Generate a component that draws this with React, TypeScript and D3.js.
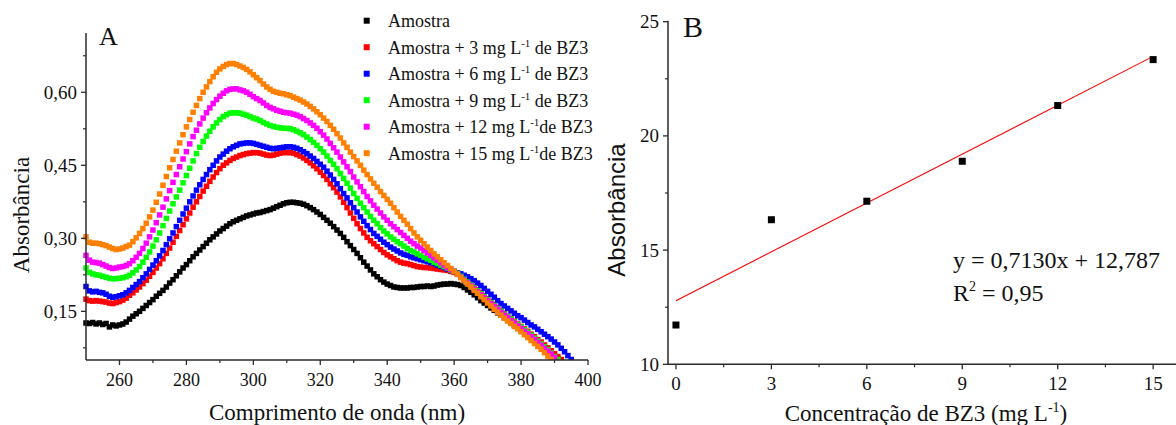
import React from "react";
import * as d3 from "d3";

// ---------- Panel A data (absorbance, 1 nm steps starting at 250 nm) ----------
const WL_START = 250;
const WL_STEP = 1;

const amostra = [
  0.126, 0.125, 0.127, 0.124, 0.126, 0.123, 0.125, 0.118, 0.122, 0.120,
  0.122, 0.124, 0.128, 0.134, 0.140, 0.145, 0.150, 0.156, 0.162, 0.168,
  0.174, 0.181, 0.187, 0.193, 0.200, 0.208, 0.215, 0.223, 0.231, 0.239,
  0.246, 0.254, 0.262, 0.269, 0.276, 0.283, 0.290, 0.297, 0.303, 0.309,
  0.315, 0.320, 0.325, 0.330, 0.334, 0.337, 0.340, 0.343, 0.346, 0.348,
  0.350, 0.352, 0.353, 0.355, 0.357, 0.359, 0.362, 0.365, 0.368, 0.371,
  0.373, 0.374, 0.374, 0.373, 0.372, 0.370, 0.367, 0.363, 0.359, 0.354,
  0.349, 0.343, 0.337, 0.331, 0.324, 0.317, 0.310, 0.302, 0.293, 0.285,
  0.277, 0.269, 0.260, 0.251, 0.243, 0.235, 0.227, 0.221, 0.215, 0.210,
  0.206, 0.203, 0.200, 0.199, 0.198, 0.198, 0.198, 0.199, 0.199, 0.200,
  0.201, 0.201, 0.202, 0.201, 0.202, 0.204, 0.205, 0.206, 0.206, 0.207,
  0.206, 0.205, 0.203, 0.199, 0.194, 0.189, 0.184, 0.178, 0.172, 0.167,
  0.162, 0.157, 0.152, 0.147, 0.142, 0.137, 0.132, 0.127, 0.122, 0.117,
  0.112, 0.107, 0.102, 0.097, 0.092, 0.087, 0.081, 0.076, 0.070, 0.064,
  0.058, 0.052, 0.046,
];

const bz3_3 = [
  0.175, 0.172, 0.171, 0.172, 0.171, 0.170, 0.169, 0.167, 0.166, 0.168,
  0.170, 0.173, 0.177, 0.183, 0.188, 0.194, 0.200, 0.207, 0.214, 0.222,
  0.230, 0.239, 0.248, 0.258, 0.269, 0.280, 0.292, 0.304, 0.316, 0.328,
  0.340, 0.352, 0.364, 0.375, 0.386, 0.397, 0.407, 0.417, 0.426, 0.435,
  0.443, 0.450, 0.455, 0.460, 0.464, 0.467, 0.470, 0.472, 0.474, 0.475,
  0.476, 0.476, 0.475, 0.473, 0.471, 0.470, 0.471, 0.473, 0.475, 0.476,
  0.476, 0.476, 0.475, 0.472, 0.469, 0.465, 0.460, 0.455, 0.449, 0.443,
  0.436, 0.429, 0.421, 0.412, 0.404, 0.395, 0.385, 0.374, 0.363, 0.352,
  0.341, 0.330, 0.320, 0.311, 0.302, 0.295, 0.289, 0.283, 0.277, 0.271,
  0.266, 0.262, 0.258, 0.254, 0.251, 0.249, 0.248, 0.246, 0.244, 0.242,
  0.241, 0.240, 0.240, 0.239, 0.238, 0.237, 0.236, 0.235, 0.234, 0.232,
  0.230, 0.227, 0.223, 0.218, 0.212, 0.206, 0.200, 0.194, 0.188, 0.182,
  0.176, 0.170, 0.164, 0.158, 0.152, 0.146, 0.140, 0.135, 0.130, 0.124,
  0.119, 0.114, 0.109, 0.103, 0.098, 0.092, 0.087, 0.081, 0.075, 0.069,
  0.063, 0.057, 0.051, 0.045,
];

const bz3_6 = [
  0.201, 0.192, 0.190, 0.191, 0.189, 0.188, 0.185, 0.181, 0.179, 0.180,
  0.182, 0.184, 0.188, 0.193, 0.199, 0.205, 0.211, 0.219, 0.227, 0.236,
  0.245, 0.254, 0.264, 0.275, 0.287, 0.299, 0.311, 0.324, 0.337, 0.350,
  0.362, 0.375, 0.387, 0.399, 0.410, 0.421, 0.431, 0.441, 0.450, 0.459,
  0.467, 0.473, 0.479, 0.484, 0.488, 0.491, 0.494, 0.495, 0.496, 0.496,
  0.495, 0.493, 0.491, 0.489, 0.487, 0.485, 0.484, 0.485, 0.486, 0.487,
  0.488, 0.488, 0.487, 0.485, 0.482, 0.478, 0.474, 0.469, 0.464, 0.458,
  0.452, 0.446, 0.438, 0.430, 0.421, 0.412, 0.402, 0.392, 0.383, 0.373,
  0.363, 0.354, 0.344, 0.335, 0.326, 0.318, 0.310, 0.304, 0.298, 0.292,
  0.287, 0.282, 0.278, 0.274, 0.270, 0.267, 0.265, 0.262, 0.260, 0.258,
  0.256, 0.254, 0.252, 0.250, 0.248, 0.245, 0.243, 0.240, 0.237, 0.234,
  0.232, 0.229, 0.227, 0.224, 0.221, 0.217, 0.213, 0.208, 0.203, 0.197,
  0.191, 0.185, 0.179, 0.172, 0.166, 0.161, 0.156, 0.151, 0.146, 0.141,
  0.137, 0.132, 0.127, 0.122, 0.118, 0.113, 0.108, 0.103, 0.098, 0.093,
  0.087, 0.081, 0.074, 0.067, 0.059, 0.051,
];

const bz3_9 = [
  0.239, 0.230, 0.227, 0.225, 0.224, 0.222, 0.220, 0.218, 0.217, 0.217,
  0.218, 0.219, 0.221, 0.224, 0.229, 0.235, 0.242, 0.251, 0.261, 0.272,
  0.284, 0.297, 0.311, 0.326, 0.341, 0.356, 0.371, 0.385, 0.399, 0.414,
  0.429, 0.444, 0.459, 0.474, 0.487, 0.499, 0.510, 0.520, 0.529, 0.537,
  0.544, 0.550, 0.554, 0.557, 0.558, 0.558, 0.557, 0.555, 0.553, 0.550,
  0.547, 0.545, 0.542, 0.538, 0.535, 0.532, 0.530, 0.528, 0.527, 0.526,
  0.526, 0.525, 0.523, 0.520, 0.517, 0.513, 0.508, 0.503, 0.497, 0.491,
  0.484, 0.477, 0.469, 0.460, 0.452, 0.443, 0.433, 0.423, 0.413, 0.403,
  0.392, 0.382, 0.372, 0.363, 0.354, 0.345, 0.337, 0.330, 0.322, 0.315,
  0.309, 0.303, 0.298, 0.293, 0.289, 0.284, 0.279, 0.275, 0.272, 0.268,
  0.265, 0.261, 0.258, 0.255, 0.251, 0.248, 0.245, 0.242, 0.239, 0.235,
  0.232, 0.228, 0.222, 0.216, 0.210, 0.204, 0.198, 0.192, 0.186, 0.180,
  0.174, 0.168, 0.162, 0.156, 0.150, 0.144, 0.139, 0.134, 0.128, 0.123,
  0.118, 0.112, 0.107, 0.101, 0.095, 0.089, 0.083, 0.077, 0.071, 0.064,
  0.057, 0.051, 0.045,
];

const bz3_12 = [
  0.265, 0.255, 0.251, 0.250, 0.249, 0.246, 0.243, 0.240, 0.238, 0.239,
  0.241, 0.242, 0.244, 0.248, 0.254, 0.261, 0.269, 0.279, 0.290, 0.303,
  0.317, 0.332, 0.348, 0.364, 0.381, 0.398, 0.415, 0.431, 0.447, 0.463,
  0.478, 0.494, 0.509, 0.522, 0.535, 0.547, 0.558, 0.568, 0.577, 0.585,
  0.592, 0.598, 0.603, 0.606, 0.607, 0.607, 0.605, 0.603, 0.600, 0.596,
  0.591, 0.587, 0.583, 0.578, 0.573, 0.569, 0.566, 0.563, 0.561, 0.559,
  0.558, 0.557, 0.555, 0.553, 0.550, 0.546, 0.542, 0.537, 0.532, 0.526,
  0.519, 0.512, 0.504, 0.495, 0.486, 0.477, 0.467, 0.457, 0.447, 0.437,
  0.426, 0.416, 0.406, 0.396, 0.386, 0.377, 0.368, 0.360, 0.352, 0.344,
  0.337, 0.330, 0.324, 0.318, 0.312, 0.306, 0.300, 0.294, 0.289, 0.284,
  0.280, 0.275, 0.270, 0.265, 0.260, 0.255, 0.250, 0.245, 0.240, 0.236,
  0.232, 0.226, 0.220, 0.214, 0.208, 0.202, 0.196, 0.190, 0.184, 0.178,
  0.172, 0.166, 0.160, 0.154, 0.148, 0.142, 0.137, 0.131, 0.126, 0.120,
  0.115, 0.109, 0.104, 0.098, 0.092, 0.086, 0.080, 0.074, 0.068, 0.062,
  0.055, 0.049,
];

const bz3_15 = [
  0.303, 0.292, 0.290, 0.290, 0.289, 0.287, 0.285, 0.282, 0.279, 0.277,
  0.278, 0.280, 0.283, 0.286, 0.293, 0.301, 0.310, 0.320, 0.331, 0.344,
  0.358, 0.374, 0.391, 0.409, 0.427, 0.445, 0.462, 0.479, 0.496, 0.513,
  0.529, 0.544, 0.559, 0.573, 0.587, 0.600, 0.611, 0.622, 0.632, 0.641,
  0.648, 0.653, 0.657, 0.659, 0.659, 0.657, 0.654, 0.651, 0.647, 0.642,
  0.636, 0.630, 0.624, 0.617, 0.611, 0.606, 0.602, 0.600, 0.598, 0.597,
  0.595, 0.593, 0.590, 0.587, 0.584, 0.580, 0.576, 0.571, 0.566, 0.560,
  0.554, 0.547, 0.540, 0.532, 0.524, 0.515, 0.506, 0.496, 0.487, 0.477,
  0.468, 0.459, 0.450, 0.440, 0.431, 0.422, 0.413, 0.405, 0.396, 0.388,
  0.380, 0.372, 0.363, 0.354, 0.345, 0.337, 0.329, 0.320, 0.311, 0.303,
  0.296, 0.289, 0.282, 0.275, 0.268, 0.262, 0.256, 0.250, 0.244, 0.238,
  0.232, 0.226, 0.219, 0.213, 0.206, 0.200, 0.193, 0.187, 0.180, 0.174,
  0.167, 0.161, 0.154, 0.148, 0.142, 0.136, 0.130, 0.125, 0.119, 0.114,
  0.108, 0.102, 0.096, 0.090, 0.084, 0.078, 0.072, 0.065, 0.058, 0.051,
  0.044,
];

const seriesNames = [
  "Amostra",
  "Amostra + 3 mg L",
  "Amostra + 6 mg L",
  "Amostra + 9 mg L",
  "Amostra + 12 mg L",
  "Amostra + 15 mg L",
];
const seriesTails = ["", " de BZ3", " de BZ3", " de BZ3", "de BZ3", "de BZ3"];
const seriesColors = ["#000000", "#ff0000", "#0000ff", "#00ff00", "#ff00ff", "#ff8000"];
const seriesValues = [amostra, bz3_3, bz3_6, bz3_9, bz3_12, bz3_15];

const xTicksA = [260, 280, 300, 320, 340, 360, 380, 400];
const xMinorA = [270, 290, 310, 330, 350, 370, 390];
const yTicksA = [0.15, 0.3, 0.45, 0.6];
const yMinorA = [0.075, 0.225, 0.375, 0.525, 0.675];

// ---------- Panel B data ----------
const concentrations = [0, 3, 6, 9, 12, 15];
const absorbB = [11.72, 16.33, 17.14, 18.89, 21.33, 23.34];
const fitSlope = 0.713;
const fitIntercept = 12.787;
const xTicksB = [0, 3, 6, 9, 12, 15];
const xMinorB = [1.5, 4.5, 7.5, 10.5, 13.5];
const yTicksB = [10, 15, 20, 25];
const yMinorB = [12.5, 17.5, 22.5];

const SERIF = "Liberation Serif, Times New Roman, Times, DejaVu Serif, serif";
const SANS = "Liberation Sans, Arial, Helvetica, sans-serif";
const AXIS = "#2a2a2a";

const fmtA = (v: number) => v.toFixed(2).replace(".", ",");

const serif = { fontFamily: SERIF };
const sans = { fontFamily: SANS };

export default function App() {
  // Panel A scales
  const xA = d3.scaleLinear().domain([250, 400]).range([86, 588]);
  const yA = d3.scaleLinear().domain([0.05, 0.7218]).range([360, 33]);
  // Panel B scales
  const xB = d3.scaleLinear().domain([-0.25, 15.75]).range([668, 1177]);
  const yB = d3.scaleLinear().domain([10, 25]).range([364.3, 21.7]);

  const ms = 5.5;
  const msB = 7;

  return (
    <svg
      width={1176}
      height={425}
      style={{ position: "absolute", left: 0, top: 0, background: "#fff", fontFamily: SERIF }}
    >
      <defs>
        <clipPath id="clipA">
          <rect x={0} y={0} width={600} height={yA(0.05)} />
        </clipPath>
      </defs>
      <rect x={0} y={0} width={1176} height={425} fill="#fff" />

      {/* ---------------- Panel A ---------------- */}
      <g clipPath="url(#clipA)">
        {seriesValues.map((vals, si) => (
          <g key={si} fill={seriesColors[si]}>
            {vals.map((v, i) =>
              v >= 0.05 ? (
                <rect
                  key={i}
                  x={xA(WL_START + i * WL_STEP) - ms / 2}
                  y={yA(v) - ms / 2}
                  width={ms}
                  height={ms}
                />
              ) : null
            )}
          </g>
        ))}
      </g>

      {/* axes A */}
      <line x1={xA(250)} x2={xA(250)} y1={yA(0.7218)} y2={yA(0.05)} stroke={AXIS} strokeWidth={1.5} />
      <line x1={xA(250)} x2={xA(400)} y1={yA(0.05)} y2={yA(0.05)} stroke={AXIS} strokeWidth={1.5} />
      {xTicksA.map((t) => (
        <g key={t}>
          <line x1={xA(t)} x2={xA(t)} y1={yA(0.05)} y2={yA(0.05) + 5} stroke={AXIS} strokeWidth={1.3} />
          <text x={xA(t)} y={385.5} textAnchor="middle" fontSize={18} fill="#111" style={serif}>
            {t}
          </text>
        </g>
      ))}
      {xMinorA.map((t) => (
        <line key={t} x1={xA(t)} x2={xA(t)} y1={yA(0.05)} y2={yA(0.05) + 3} stroke={AXIS} strokeWidth={1.2} />
      ))}
      {yTicksA.map((t) => (
        <g key={t}>
          <line x1={xA(250) - 5} x2={xA(250)} y1={yA(t)} y2={yA(t)} stroke={AXIS} strokeWidth={1.3} />
          <text x={77} y={yA(t) + 6.5} textAnchor="end" fontSize={19} fill="#111" style={serif}>
            {fmtA(t)}
          </text>
        </g>
      ))}
      {yMinorA.map((t) => (
        <line key={t} x1={xA(250) - 3} x2={xA(250)} y1={yA(t)} y2={yA(t)} stroke={AXIS} strokeWidth={1.2} />
      ))}
      <text x={337} y={420} textAnchor="middle" fontSize={23} fill="#111" style={serif}>
        Comprimento de onda (nm)
      </text>
      <text
        transform={`translate(29,215) rotate(-90)`}
        textAnchor="middle"
        fontSize={23}
        fill="#111"
        style={serif}
      >
        Absorbância
      </text>
      <text x={99} y={45} fontSize={26} fill="#111" style={serif}>
        A
      </text>

      {/* legend */}
      {seriesNames.map((name, i) => {
        const cy = 20.7 + i * 26.5;
        return (
          <g key={i}>
            <rect x={366.7 - 3} y={cy - 3} width={6} height={6} fill={seriesColors[i]} />
            <text x={388} y={cy + 6.5} fontSize={18} fill="#111" style={serif}>
              {name}
              {i > 0 ? (
                <>
                  <tspan dy={-7} fontSize={11}>
                    -1
                  </tspan>
                  <tspan dy={7}>{seriesTails[i]}</tspan>
                </>
              ) : null}
            </text>
          </g>
        );
      })}

      {/* ---------------- Panel B ---------------- */}
      <line x1={668} x2={668} y1={yB(25) - 1} y2={yB(10)} stroke={AXIS} strokeWidth={1.5} />
      <line x1={668} x2={1176} y1={yB(10)} y2={yB(10)} stroke={AXIS} strokeWidth={1.5} />
      {xTicksB.map((t) => (
        <g key={t}>
          <line x1={xB(t)} x2={xB(t)} y1={yB(10)} y2={yB(10) + 5} stroke={AXIS} strokeWidth={1.3} />
          <text x={xB(t)} y={389.5} textAnchor="middle" fontSize={19} fill="#111" style={serif}>
            {t}
          </text>
        </g>
      ))}
      {xMinorB.map((t) => (
        <line key={t} x1={xB(t)} x2={xB(t)} y1={yB(10)} y2={yB(10) + 3} stroke={AXIS} strokeWidth={1.2} />
      ))}
      {yTicksB.map((t) => (
        <g key={t}>
          <line x1={663} x2={668} y1={yB(t)} y2={yB(t)} stroke={AXIS} strokeWidth={1.3} />
          <text x={659} y={yB(t) + 6.5} textAnchor="end" fontSize={19} fill="#111" style={serif}>
            {t}
          </text>
        </g>
      ))}
      {yMinorB.map((t) => (
        <line key={t} x1={665} x2={668} y1={yB(t)} y2={yB(t)} stroke={AXIS} strokeWidth={1.2} />
      ))}

      <line
        x1={xB(0)}
        y1={yB(fitIntercept)}
        x2={xB(15)}
        y2={yB(fitIntercept + fitSlope * 15)}
        stroke="#ff0000"
        strokeWidth={1.1}
      />
      {concentrations.map((c, i) => (
        <rect
          key={c}
          x={xB(c) - msB / 2}
          y={yB(absorbB[i]) - msB / 2}
          width={msB}
          height={msB}
          fill="#000"
        />
      ))}

      <text x={953} y={268} fontSize={24} fill="#111" style={serif}>
        y = 0,7130x + 12,787
      </text>
      <text x={953} y={301} fontSize={24} fill="#111" style={serif}>
        R
        <tspan dy={-10} fontSize={14}>
          2
        </tspan>
        <tspan dy={10}> = 0,95</tspan>
      </text>

      <text x={926} y={420.5} textAnchor="middle" fontSize={23} fill="#111" style={serif}>
        Concentração de BZ3 (mg L
        <tspan dy={-9} fontSize={14}>
          -1
        </tspan>
        <tspan dy={9}>)</tspan>
      </text>
      <text
        transform={`translate(625,210) rotate(-90)`}
        textAnchor="middle"
        fontSize={24}
        fill="#111"
        style={sans}
      >
        Absorbância
      </text>
      <text x={683} y={37} fontSize={30} fill="#111" style={serif}>
        B
      </text>
    </svg>
  );
}
